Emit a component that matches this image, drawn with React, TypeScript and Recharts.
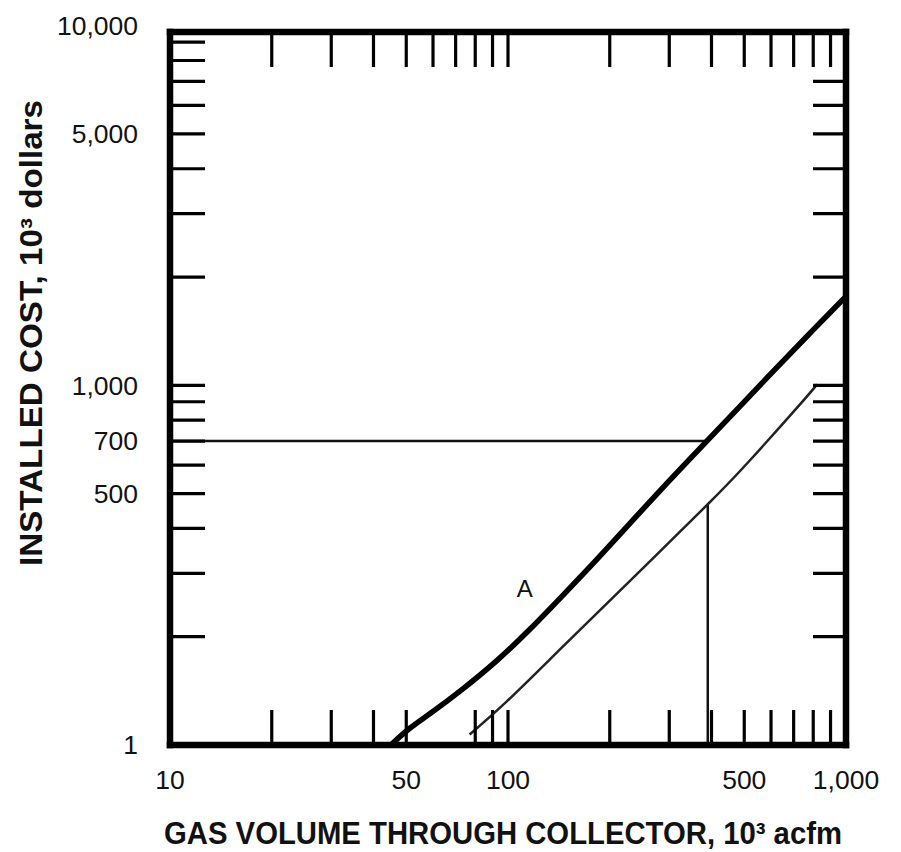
import React from 'react';
import { ComposedChart, Line, XAxis, YAxis, ReferenceDot } from 'recharts';

// ---- data ----
const curveAX = [45, 51.3, 58.8, 73.6, 92.8, 116, 145.5, 183, 234, 295, 390, 486, 608, 766, 1000];
const curveAY = [100, 112, 122, 143, 171, 209, 261, 327, 422, 534, 705, 874, 1094, 1368, 1767];

const curveBX = [77, 99, 145.5, 234, 390, 520, 731, 821];
const curveBY = [107, 132, 188, 291, 467, 619, 885, 1006];

const guideHX = [10, 390];
const guideHY = [700, 700];
const guideVX = [390, 390];
const guideVY = [100, 467];

const labelA = { x: 112, y: 273, text: 'A' };

// ---- axes ----
const xDomain = [10, 1000];
const yDomain = [100, 9600];

const xMarksTop = [20, 30, 40, 50, 60, 70, 80, 90, 100, 200, 300, 400, 500, 600, 700, 800, 900];
const xMarksBottom = [20, 30, 40, 50, 80, 90, 100, 200, 300, 400, 500, 600, 700, 800, 900];
const xLabelValues = [10, 50, 100, 500, 1000];
const xLabelTexts = ['10', '50', '100', '500', '1,000'];

const yMarksLeft = [200, 300, 400, 500, 600, 700, 800, 900, 1000, 2000, 3000, 4000, 5000, 6000, 7000, 8000, 9000];
const yMarksRight = [200, 300, 400, 500, 600, 700, 800, 900, 1000, 2000, 3000, 4000, 5000, 6000, 7000];
const yLabelValues = [100, 500, 700, 1000, 5000, 10000];
const yLabelTexts = ['1', '500', '700', '1,000', '5,000', '10,000'];

const xTitle = 'GAS VOLUME THROUGH COLLECTOR, 10\u00B3 acfm';
const yTitle = 'INSTALLED COST, 10\u00B3 dollars';

const toPoints = (xs: number[], ys: number[]) => xs.map((x, i) => ({ x, y: ys[i] }));
const dataA = toPoints(curveAX, curveAY);
const dataB = toPoints(curveBX, curveBY);
const dataH = toPoints(guideHX, guideHY);
const dataV = toPoints(guideVX, guideVY);

const union = (a: number[], b: number[]) => Array.from(new Set([...a, ...b])).sort((p, q) => p - q);

const LABEL_FONT = "'Liberation Sans', Arial, Helvetica, sans-serif";
const TITLE_FONT = "'Liberation Sans Narrow', 'Arial Narrow', 'Liberation Sans', Arial, sans-serif";
const LABEL_SIZE = 26.5;
const TICK_LEN = 35;
const TICK_W = 3.2;

type Side = 'left' | 'right' | 'top' | 'bottom';

function makeTick(side: Side, marks: number[], labelVals: number[], labelTexts: string[]) {
  return (props: any) => {
    const { x, y, payload } = props;
    const v = payload.value;
    const hasMark = marks.includes(v);
    const li = labelVals.indexOf(v);
    let line = null;
    let label = null;
    if (hasMark) {
      if (side === 'left') line = <line x1={x} y1={y} x2={x + TICK_LEN} y2={y} stroke="#000" strokeWidth={TICK_W} />;
      if (side === 'right') line = <line x1={x} y1={y} x2={x - 33} y2={y} stroke="#000" strokeWidth={TICK_W} />;
      if (side === 'top') line = <line x1={x} y1={y} x2={x} y2={y + TICK_LEN} stroke="#000" strokeWidth={TICK_W} />;
      if (side === 'bottom') line = <line x1={x} y1={y} x2={x} y2={y - TICK_LEN} stroke="#000" strokeWidth={TICK_W} />;
    }
    if (li >= 0) {
      if (side === 'left')
        label = (
          <text x={x - 32} y={y} dy="0.35em" textAnchor="end" fontSize={LABEL_SIZE} fontFamily={LABEL_FONT} fill="#111">
            {labelTexts[li]}
          </text>
        );
      if (side === 'bottom')
        label = (
          <text x={x} y={y + 35} dy="0.35em" textAnchor="middle" fontSize={LABEL_SIZE} fontFamily={LABEL_FONT} fill="#111">
            {labelTexts[li]}
          </text>
        );
    }
    return (
      <g>
        {line}
        {label}
      </g>
    );
  };
}

const frameLine = { stroke: '#000', strokeWidth: 6.5, strokeLinecap: 'square' as const };

export default function App() {
  return (
    <div style={{ position: 'absolute', left: 0, top: 0, width: 900, height: 852, background: '#fff' }}>
      <ComposedChart width={900} height={852} margin={{ top: 31, right: 53, bottom: 0, left: 0 }}>
        <XAxis
          xAxisId="bottom"
          type="number"
          dataKey="x"
          scale="log"
          domain={xDomain}
          allowDataOverflow
          orientation="bottom"
          height={107}
          ticks={union(xMarksBottom, xLabelValues)}
          interval={0}
          tickLine={false}
          tickSize={0}
          tickMargin={0}
          axisLine={frameLine}
          tick={makeTick('bottom', xMarksBottom, xLabelValues, xLabelTexts)}
          label={{
            content: (p: any) => {
              const vb = p.viewBox || { x: 170, y: 745, width: 676 };
              return (
                <text
                  x={vb.x + vb.width / 2 - 5}
                  y={vb.y + 99}
                  textAnchor="middle"
                  fontSize={31}
                  fontWeight="bold"
                  fontFamily={TITLE_FONT}
                  textLength={678}
                  lengthAdjust="spacingAndGlyphs"
                  fill="#111"
                >
                  {xTitle}
                </text>
              );
            },
          }}
        />
        <XAxis
          xAxisId="top"
          type="number"
          dataKey="x"
          scale="log"
          domain={xDomain}
          allowDataOverflow
          orientation="top"
          height={1}
          ticks={xMarksTop}
          interval={0}
          tickLine={false}
          tickSize={0}
          tickMargin={0}
          axisLine={frameLine}
          tick={makeTick('top', xMarksTop, [], [])}
        />
        <YAxis
          yAxisId="left"
          type="number"
          dataKey="y"
          scale="log"
          domain={yDomain}
          allowDataOverflow
          orientation="left"
          width={170}
          ticks={union(yMarksLeft, yLabelValues)}
          interval={0}
          tickLine={false}
          tickSize={0}
          tickMargin={0}
          axisLine={frameLine}
          tick={makeTick('left', yMarksLeft, yLabelValues, yLabelTexts)}
          label={{
            content: (p: any) => {
              const vb = p.viewBox || { x: 0, y: 32, width: 170, height: 713 };
              const cx = vb.x + 42;
              const cy = vb.y + 301;
              return (
                <text
                  x={cx}
                  y={cy}
                  transform={`rotate(-90, ${cx}, ${cy})`}
                  textAnchor="middle"
                  fontSize={31}
                  fontWeight="bold"
                  fontFamily={TITLE_FONT}
                  textLength={466}
                  lengthAdjust="spacingAndGlyphs"
                  fill="#111"
                >
                  {yTitle}
                </text>
              );
            },
          }}
        />
        <YAxis
          yAxisId="right"
          type="number"
          dataKey="y"
          scale="log"
          domain={yDomain}
          allowDataOverflow
          orientation="right"
          width={1}
          ticks={yMarksRight}
          interval={0}
          tickLine={false}
          tickSize={0}
          tickMargin={0}
          axisLine={frameLine}
          tick={makeTick('right', yMarksRight, [], [])}
        />

        <Line xAxisId="bottom" yAxisId="left" data={dataH} dataKey="y" type="linear" stroke="#111" strokeWidth={2.5} dot={false} isAnimationActive={false} />
        <Line xAxisId="bottom" yAxisId="left" data={dataV} dataKey="y" type="linear" stroke="#111" strokeWidth={2.5} dot={false} isAnimationActive={false} />
        <Line xAxisId="bottom" yAxisId="left" data={dataB} dataKey="y" type="natural" stroke="#222" strokeWidth={2.5} dot={false} isAnimationActive={false} />
        <Line xAxisId="bottom" yAxisId="left" data={dataA} dataKey="y" type="basis" stroke="#000" strokeWidth={5.5} dot={false} isAnimationActive={false} />

        <ReferenceDot
          xAxisId="bottom"
          yAxisId="left"
          x={labelA.x}
          y={labelA.y}
          r={0}
          fill="none"
          stroke="none"
          label={{ value: labelA.text, position: 'center', fontSize: 24, fill: '#111', fontFamily: LABEL_FONT }}
        />
      </ComposedChart>
    </div>
  );
}
